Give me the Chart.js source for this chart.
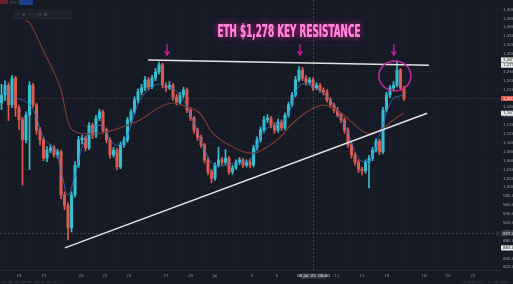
<!DOCTYPE html>
<html>
<head>
<meta charset="utf-8">
<script src="https://cdn.jsdelivr.net/npm/chart.js@4.4.0/dist/chart.umd.min.js"></script>
<style>
  html, body { margin: 0; padding: 0; background: #161a25; overflow: hidden; }
</style>
</head>
<body>
<canvas id="chart" width="513" height="284"></canvas>
<script>
// ETH/USD candles, mid June -> mid July 2022
const opens = [
  1190, 1208, 1230, 1186, 1246, 1179, 1152, 1107, 1163, 1230,
  1186, 1129, 1107, 1066, 1084, 1089, 1073, 1080, 983, 960,
  909, 983, 1050, 1107, 1111, 1089, 1140, 1118, 1156, 1170,
  1129, 1107, 1073, 1084, 1046, 1096, 1107, 1152, 1170, 1197,
  1215, 1224, 1242, 1226, 1246, 1260, 1276, 1230, 1224, 1230,
  1203, 1192, 1208, 1219, 1174, 1156, 1129, 1113, 1096, 1062,
  1035, 1021, 1050, 1062, 1057, 1066, 1035, 1044, 1057, 1062,
  1050, 1057, 1050, 1089, 1107, 1129, 1152, 1156, 1140, 1129,
  1147, 1134, 1163, 1186, 1208, 1242, 1264, 1246, 1237, 1242,
  1224, 1230, 1219, 1215, 1197, 1186, 1174, 1163, 1152, 1129,
  1096, 1073, 1057, 1041, 1037, 1057, 1066, 1084, 1104, 1080,
  1174, 1208, 1224, 1230, 1264, 1224
];
const closes = [
  1208, 1230, 1186, 1246, 1179, 1152, 1107, 1163, 1230, 1186,
  1129, 1107, 1066, 1084, 1089, 1073, 1080, 983, 960, 909,
  983, 1050, 1107, 1111, 1089, 1140, 1118, 1156, 1170, 1129,
  1107, 1073, 1084, 1046, 1096, 1107, 1152, 1170, 1197, 1215,
  1224, 1242, 1226, 1246, 1260, 1276, 1230, 1224, 1230, 1203,
  1192, 1208, 1219, 1174, 1156, 1129, 1113, 1096, 1062, 1035,
  1021, 1050, 1062, 1057, 1066, 1035, 1044, 1057, 1062, 1050,
  1057, 1050, 1089, 1107, 1129, 1152, 1156, 1140, 1129, 1147,
  1134, 1163, 1186, 1208, 1242, 1264, 1246, 1237, 1242, 1224,
  1230, 1219, 1215, 1197, 1186, 1174, 1163, 1152, 1129, 1096,
  1073, 1057, 1041, 1037, 1057, 1066, 1084, 1104, 1080, 1174,
  1208, 1224, 1230, 1264, 1224, 1201
];
const highs = [
  1232, 1240, 1236, 1252, 1250, 1185, 1158, 1170, 1238, 1234,
  1190, 1135, 1112, 1092, 1096, 1094, 1086, 1084, 990, 966,
  990, 1058, 1115, 1118, 1116, 1146, 1145, 1162, 1176, 1174,
  1134, 1112, 1090, 1088, 1102, 1114, 1158, 1176, 1204, 1222,
  1232, 1250, 1248, 1252, 1268, 1282, 1280, 1236, 1238, 1234,
  1210, 1214, 1226, 1224, 1180, 1160, 1134, 1118, 1100, 1068,
  1040, 1056, 1090, 1068, 1085, 1070, 1050, 1062, 1068, 1066,
  1062, 1064, 1095, 1114, 1136, 1160, 1164, 1160, 1146, 1154,
  1152, 1168, 1192, 1214, 1250, 1272, 1270, 1252, 1248, 1246,
  1236, 1234, 1224, 1220, 1202, 1190, 1180, 1168, 1156, 1134,
  1100, 1078, 1062, 1046, 1062, 1072, 1090, 1110, 1108, 1180,
  1214, 1230, 1238, 1282, 1268, 1228
];
const lows = [
  1175, 1195, 1150, 1180, 1160, 1130, 1005, 1100, 1040, 1180,
  1120, 1095, 1060, 1058, 1078, 1068, 1066, 975, 950, 882,
  900, 978, 1045, 1098, 1082, 1085, 1110, 1112, 1150, 1122,
  1100, 1066, 1068, 1040, 1042, 1090, 1102, 1146, 1165, 1190,
  1208, 1218, 1220, 1222, 1240, 1255, 1224, 1216, 1220, 1196,
  1185, 1188, 1202, 1168, 1150, 1122, 1106, 1090, 1055, 1028,
  1010, 1016, 1046, 1050, 1052, 1030, 1030, 1040, 1052, 1045,
  1046, 1044, 1046, 1084, 1102, 1124, 1146, 1134, 1122, 1124,
  1128, 1130, 1158, 1182, 1204, 1238, 1240, 1230, 1232, 1218,
  1220, 1214, 1208, 1192, 1180, 1168, 1158, 1146, 1122, 1090,
  1066, 1050, 1034, 1028, 1032, 999, 1060, 1080, 1074, 1076,
  1170, 1202, 1218, 1226, 1218, 1195
];

// moving averages, read as points (candle index, price)
const maFastIdx = [0.4, 2.4, 8.1, 12.4, 15.3, 17.3, 19, 21, 23.9, 28.1, 32.4, 35.3, 39.6, 43.9, 46.7, 51, 55.3, 58.1, 61, 66.7, 71, 75.3, 81, 85.3, 89.6, 93.9, 98.1, 102.4, 105.3, 108.1, 111.6, 114.7];
const maFast = [1224, 1208, 1185, 1107, 1084, 1028, 983, 1028, 1107, 1140, 1096, 1107, 1197, 1230, 1230, 1208, 1140, 1084, 1050, 1055, 1062, 1129, 1152, 1230, 1224, 1197, 1140, 1062, 1062, 1120, 1197, 1208];
const maSlowIdx = [6.7, 8.1, 11.9, 16.7, 19.6, 22.4, 28.1, 33.9, 39.6, 45.3, 49, 53, 56.7, 60.4, 66.1, 71.9, 75.9, 79.6, 83.3, 88.1, 91.9, 95.9, 100.4, 104.4, 108.1, 113, 115];
const maSlow = [1377, 1370, 1309, 1226, 1136, 1122, 1122, 1134, 1152, 1181, 1190, 1181, 1167, 1122, 1091, 1077, 1091, 1113, 1145, 1174, 1185, 1174, 1145, 1122, 1129, 1158, 1167];

// drawn trend lines (candle index, price)
const resistanceLine = [[41.9, 1287], [122.1, 1275]];
const supportLine = [[18.1, 864], [121.6, 1167]];
const arrowIdx = [47.3, 85.3, 112.1];

// time axis
const tickPos = [5.0, 12.1, 22.7, 29.6, 36.4, 47.0, 54.1, 61.0, 71.6, 78.7, 95.9, 103.0, 110.1, 120.7, 127.6, 134.7];
const tickLabels = ['15', '17', '20', '22', '24', '27', '29', 'Jul', '4', '6', '11', '13', '15', '18', '20', '22'];

const UP = '#33bfcf';
const DOWN = '#dc5a4f';
const BG = '#161a25';

const candleColors = closes.map((c, i) => c >= opens[i] ? UP : DOWN);

const chrome = {
  id: 'chrome',
  beforeDraw(chart) {
    const ctx = chart.ctx;
    ctx.save();
    ctx.fillStyle = BG;
    ctx.fillRect(0, 0, chart.width, chart.height);
    ctx.restore();
  },
  afterDatasetsDraw(chart) {
    const ctx = chart.ctx;
    const xs = chart.scales.x, ys = chart.scales.y;
    const area = chart.chartArea;
    ctx.save();

    // crosshair + price lines
    ctx.setLineDash([2, 2]);
    ctx.lineWidth = 1;
    ctx.strokeStyle = 'rgba(150,155,170,0.35)';
    const cx = Math.round(xs.getPixelForValue(88.9)) + 0.5;
    ctx.beginPath(); ctx.moveTo(cx, 0); ctx.lineTo(cx, area.bottom); ctx.stroke();
    ctx.beginPath(); ctx.moveTo(0, 233.5); ctx.lineTo(area.right, 233.5); ctx.stroke();
    ctx.setLineDash([1, 2]);
    ctx.strokeStyle = 'rgba(223,90,79,0.35)';
    const py = Math.round(ys.getPixelForValue(closes[closes.length - 1])) + 0.5;
    ctx.beginPath(); ctx.moveTo(0, py); ctx.lineTo(area.right, py); ctx.stroke();
    ctx.setLineDash([]);

    // arrows
    ctx.strokeStyle = '#d81ea3';
    ctx.lineWidth = 1.2;
    arrowIdx.forEach(v => {
      const x = xs.getPixelForValue(v);
      ctx.beginPath();
      ctx.moveTo(x, 44); ctx.lineTo(x, 55);
      ctx.moveTo(x - 2.5, 51); ctx.lineTo(x, 55); ctx.lineTo(x + 2.5, 51);
      ctx.stroke();
    });

    // circle around last test
    ctx.strokeStyle = '#c9279f';
    ctx.lineWidth = 1.5;
    ctx.beginPath();
    ctx.ellipse(xs.getPixelForValue(112.4), ys.getPixelForValue(1251), 16, 15, 0, 0, Math.PI * 2);
    ctx.stroke();

    // title
    const title = 'ETH $1,278 KEY RESISTANCE';
    ctx.font = "bold 17px 'DejaVu Sans Condensed', 'Liberation Sans Narrow', sans-serif";
    const w = ctx.measureText(title).width;
    ctx.translate(289, 37);
    ctx.scale(143 / w, 1);
    ctx.textAlign = 'center';
    ctx.textBaseline = 'alphabetic';
    ctx.shadowColor = 'rgba(255,40,170,0.9)';
    ctx.shadowBlur = 7;
    ctx.fillStyle = '#ff5cd0';
    ctx.fillText(title, 0, 0);
    ctx.shadowBlur = 0;
    ctx.fillStyle = '#ff86dc';
    ctx.fillText(title, 0, 0);
    ctx.restore();

    // price-axis label boxes
    ctx.save();
    ctx.font = "4px 'DejaVu Sans', sans-serif";
    ctx.textBaseline = 'middle';
    const box = (y, fill, text, color) => {
      ctx.fillStyle = fill;
      ctx.fillRect(501, y - 2.5, 12, 5);
      ctx.fillStyle = color;
      ctx.fillText(text, 503, y);
    };
    box(ys.getPixelForValue(1287), '#e8e8e8', '1,287.00', '#222');
    box(ys.getPixelForValue(1275), '#e8e8e8', '1,275.50', '#222');
    box(py, '#e0544c', '1,201.00', '#fff');
    box(ys.getPixelForValue(1167), '#e8e8e8', '1,167.50', '#222');
    box(233.5, '#3b3f4b', '897.00', '#ddd');
    box(ys.getPixelForValue(864), '#e8e8e8', '863.80', '#222');
    ctx.fillStyle = '#2a2e39';
    ctx.fillRect(496, 231.5, 4, 4);

    // date box on the time axis
    ctx.fillStyle = '#3b3f4b';
    ctx.fillRect(cx - 12, 273.5, 25, 5);
    ctx.fillStyle = '#e6e6e6';
    ctx.textAlign = 'center';
    ctx.fillText("08 Jul '22  08:00", cx, 276);

    // top-left toolbar chrome
    ctx.fillStyle = '#6e1f2b';
    ctx.fillRect(0, 0, 8, 4);
    ctx.fillStyle = '#1d3f8f';
    ctx.fillRect(19, 0, 14, 5);
    ctx.fillStyle = 'rgba(255,255,255,0.04)';
    ctx.fillRect(13, 10, 59, 9);
    ctx.fillStyle = '#555a66';
    ctx.textAlign = 'left';
    ctx.fillText('ETH', 10, 2.5);
    ctx.fillText('\u21b6  \u2261  \u2212  \u2215  \u2637  \u2630', 16, 14.5);

    // bottom bar
    ctx.fillStyle = '#4c505c';
    ctx.font = "3px 'DejaVu Sans', sans-serif";
    ctx.fillText('1D  5D  1M  3M  6M  YTD  1Y  5Y  All    \u2637', 2, 282.5);
    ctx.fillText('18:38:06 (UTC)   %   log   auto', 462, 282.5);
    ctx.restore();
  }
};

new Chart(document.getElementById('chart'), {
  type: 'bar',
  data: {
    datasets: [
      {
        type: 'line',
        data: resistanceLine.map(p => ({ x: p[0], y: p[1] })),
        borderColor: '#e4e4e4', borderWidth: 1.5, pointRadius: 0, order: 0
      },
      {
        type: 'line',
        data: supportLine.map(p => ({ x: p[0], y: p[1] })),
        borderColor: '#e4e4e4', borderWidth: 1.5, pointRadius: 0, order: 0
      },
      {
        type: 'line',
        data: maFastIdx.map((x, i) => ({ x: x, y: maFast[i] })),
        borderColor: 'rgba(52,110,210,0.8)', borderWidth: 1, pointRadius: 0, tension: 0.4, order: 1
      },
      {
        type: 'line',
        data: maSlowIdx.map((x, i) => ({ x: x, y: maSlow[i] })),
        borderColor: '#7a3a33', borderWidth: 1.2, pointRadius: 0, tension: 0.4, order: 1
      },
      {
        data: opens.map((o, i) => ({ x: i, y: [o, closes[i]] })),
        backgroundColor: candleColors, barThickness: 2.4, grouped: false, order: 2
      },
      {
        data: lows.map((l, i) => ({ x: i, y: [l, highs[i]] })),
        backgroundColor: candleColors, barThickness: 1, grouped: false, order: 3
      }
    ]
  },
  options: {
    responsive: false,
    animation: false,
    events: [],
    layout: { padding: 0, autoPadding: false },
    plugins: { legend: { display: false }, tooltip: { enabled: false } },
    scales: {
      x: {
        type: 'linear',
        offset: false,
        min: -0.43,
        max: 142.43,
        grid: { color: 'rgba(255,255,255,0.018)', drawTicks: false },
        border: { display: true, color: 'rgba(255,255,255,0.08)' },
        afterBuildTicks: s => { s.ticks = tickPos.map(v => ({ value: v })); },
        afterFit: s => { s.height = 14; },
        ticks: {
          autoSkip: false, maxRotation: 0, padding: 4,
          color: '#868a96', font: { size: 4, family: 'DejaVu Sans' },
          callback: (v, i) => tickLabels[i]
        }
      },
      y: {
        position: 'right',
        offset: false,
        min: 814.25,
        max: 1409.6,
        grid: { color: 'rgba(255,255,255,0.018)', drawTicks: false },
        border: { display: false },
        afterFit: s => { s.width = 13; },
        ticks: {
          stepSize: 20, includeBounds: false, autoSkip: false, padding: 3,
          color: '#9a9ea9', font: { size: 4, family: 'DejaVu Sans' },
          callback: v => v.toLocaleString('en-US', { minimumFractionDigits: 2, maximumFractionDigits: 2 })
        }
      }
    }
  },
  plugins: [chrome]
});
</script>
</body>
</html>
